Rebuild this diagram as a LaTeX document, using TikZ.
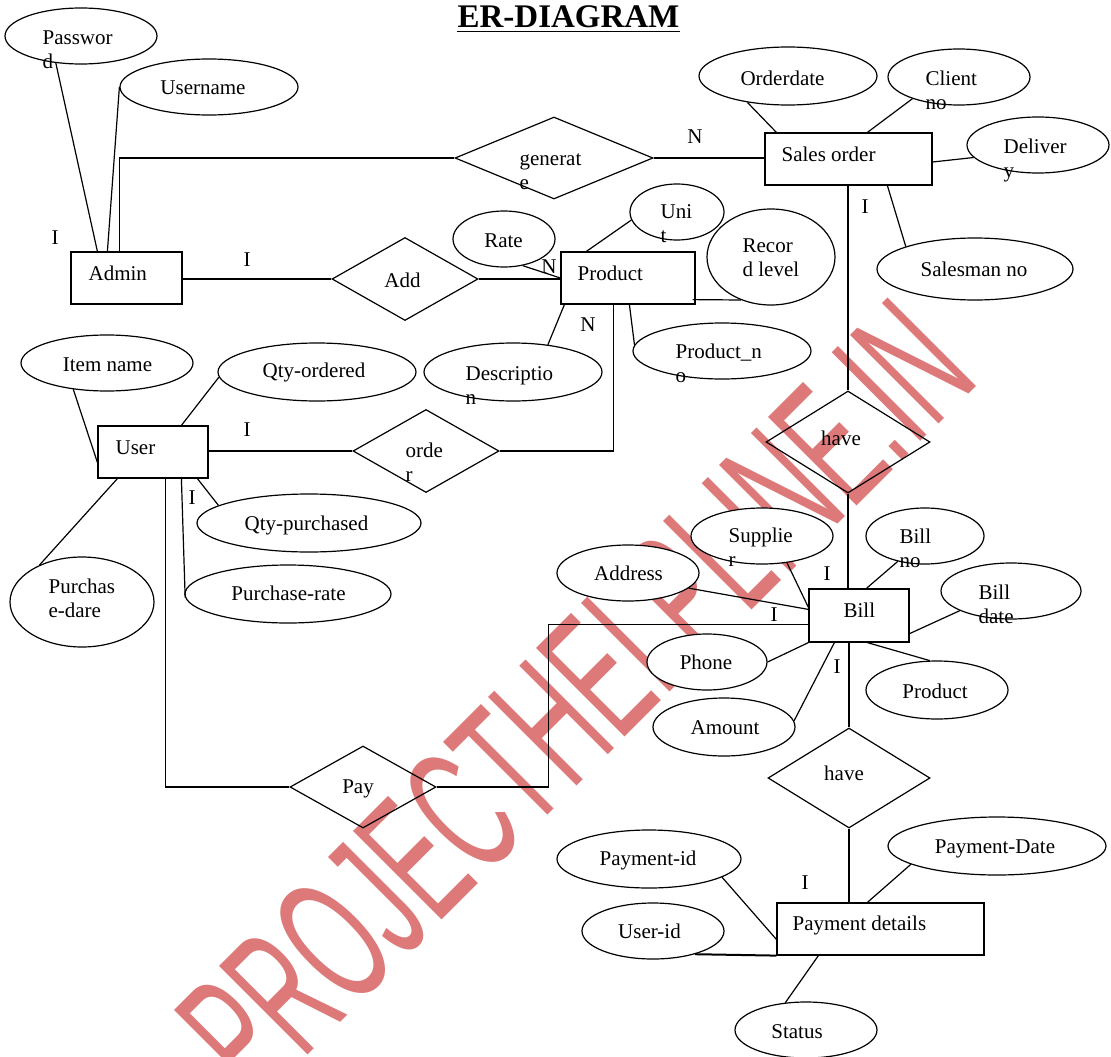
\documentclass[tikz,border=0pt]{standalone}
\usepackage{fontspec}
\usepackage{graphicx}
\setmainfont{Liberation Serif}
\newfontfamily\wmfont{Liberation Sans}
\usetikzlibrary{shapes.geometric}
\definecolor{wmred}{RGB}{221,121,121}
\newcommand{\twol}[2]{\begin{tabular}[t]{@{}l@{}}#1\\#2\end{tabular}}
\tikzset{
  ent/.style={draw, rectangle, inner sep=0pt, minimum height=52pt},
  attr/.style={draw, ellipse, fill=white, inner sep=0pt},
  rel/.style={draw, diamond, inner sep=0pt},
  txt/.style={inner sep=0pt, anchor=base},
  txtl/.style={inner sep=0pt, anchor=base west},
  card/.style={inner sep=0pt},
}
\begin{document}
\begin{tikzpicture}[x=1pt, y=-1pt, line width=1.2pt, font=\fontsize{21}{24}\selectfont]
\useasboundingbox (0,0) rectangle (1111,1057);
\fill[white] (0,0) rectangle (1111,1057);

% watermark
\node[rotate=45, inner sep=0pt, text=wmred, font=\wmfont\fontsize{182}{190}\selectfont] (wm) at (575.6,698.4) {\scalebox{0.522}[1]{PROJECTHELPLINE.IN}};

% title
\node[txt, font=\fontsize{33}{36}\selectfont\bfseries] (title) at (568.5,28) {ER-DIAGRAM};
\draw[line width=1.8pt] ([yshift=-3.5pt]title.base west) -- ([yshift=-3.5pt]title.base east);

% entities
\node[ent, minimum width=111pt] (admin) at (126.5,278) {};
\node[ent, minimum width=134pt] (product) at (628,278) {};
\node[ent, minimum width=167pt] (sales) at (848.5,159) {};
\node[ent, minimum width=110pt] (user) at (153,452) {};
\node[ent, minimum width=100pt, minimum height=53pt] (bill) at (859,615.5) {};
\node[ent, minimum width=207pt] (paydet) at (880.5,929) {};

% relationships
\node[rel, minimum width=198pt, minimum height=82pt] (gen) at (554,158) {};
\node[rel, minimum width=146pt, minimum height=83pt] (add) at (405,279) {};
\node[rel, minimum width=146pt, minimum height=83pt] (order) at (426,451) {};
\node[rel, minimum width=164pt, minimum height=102pt] (have1) at (848,442) {};
\node[rel, minimum width=162pt, minimum height=100pt] (have2) at (849,778) {};
\node[rel, minimum width=146pt, minimum height=82pt] (pay) at (363,787) {};

% attributes
\node[attr, minimum width=152pt, minimum height=56pt] (pw) at (81,36) {};
\node[attr, minimum width=178pt, minimum height=56pt] (un) at (209,87) {};
\node[attr, minimum width=178pt, minimum height=58pt] (odate) at (788,76) {};
\node[attr, minimum width=142pt, minimum height=56pt] (client) at (959,77) {};
\node[attr, minimum width=142pt, minimum height=56pt] (deliver) at (1038,145) {};
\node[attr, minimum width=196pt, minimum height=62pt] (salesman) at (975,269) {};
\node[attr, minimum width=102pt, minimum height=56pt] (rate) at (504,239) {};
\node[attr, minimum width=94pt, minimum height=56pt] (unit) at (677,212) {};
\node[attr, minimum width=128pt, minimum height=96pt] (recor) at (771,257) {};
\node[attr, minimum width=178pt, minimum height=56pt] (prodno) at (722,351) {};
\node[attr, minimum width=178pt, minimum height=58pt] (desc) at (513,372) {};
\node[attr, minimum width=172pt, minimum height=56pt] (item) at (107,363) {};
\node[attr, minimum width=198pt, minimum height=58pt] (qtyord) at (317,372) {};
\node[attr, minimum width=224pt, minimum height=58pt] (qtypur) at (309,523) {};
\node[attr, minimum width=206pt, minimum height=58pt] (purrate) at (288,594) {};
\node[attr, minimum width=144pt, minimum height=90pt] (purdare) at (82,602) {};
\node[attr, minimum width=142pt, minimum height=56pt] (supp) at (762,536) {};
\node[attr, minimum width=142pt, minimum height=56pt] (addr) at (628,573) {};
\node[attr, minimum width=118pt, minimum height=56pt] (billno) at (925,536) {};
\node[attr, minimum width=140pt, minimum height=56pt] (billdate) at (1011,591) {};
\node[attr, minimum width=120pt, minimum height=56pt] (phone) at (707,662) {};
\node[attr, minimum width=142pt, minimum height=58pt] (bprod) at (937,690) {};
\node[attr, minimum width=142pt, minimum height=58pt] (amount) at (724,727) {};
\node[attr, minimum width=218pt, minimum height=58pt] (paydate) at (997,846) {};
\node[attr, minimum width=184pt, minimum height=58pt] (payid) at (649,859) {};
\node[attr, minimum width=142pt, minimum height=56pt] (userid) at (653,931) {};
\node[attr, minimum width=142pt, minimum height=56pt] (status) at (806,1030) {};

% connectors
\draw (pw.227) -- ([xshift=27pt]admin.north west);
\draw (un.west) -- ([xshift=37pt]admin.north west);
\draw ([xshift=49pt]admin.north west) |- (gen.west);
\draw (admin.east |- add.west) -- (add.west);
\draw (add.east) -- (add.east -| product.west);
\draw (gen.east) -- (gen.east -| sales.west);
\draw (rate.305) -- (product.west);
\draw (unit.190) -- ([xshift=26pt]product.north west);
\draw ([xshift=-3pt,yshift=5pt]product.south east) -- (recor.235);
\draw ([xshift=69pt]product.south west) -- (prodno.176);
\draw ([xshift=4pt]product.south west) -- (desc.38);
\draw ([xshift=53pt]product.south west) |- (order.east);
\draw (user.east |- order.west) -- (order.west);
\draw (have1.north |- sales.south) -- (have1.north);
\draw (odate.213) -- ([xshift=12pt]sales.north west);
\draw (client.205) -- ([xshift=103pt]sales.north west);
\draw ([yshift=-3pt]sales.east) -- (deliver.191);
\draw ([xshift=123pt]sales.south west) -- (salesman.162);
\draw (have1.south) -- (have1.south |- bill.north);
\draw (have2.north |- bill.south) -- (have2.north);
\draw (have2.south) -- (have2.south |- paydet.north);
\draw (supp.313) -- ([yshift=-19pt]bill.north west);
\draw (addr.346) -- ([yshift=-21pt]bill.north west);
\draw ([yshift=-36pt]bill.north west) -| ([xshift=112pt]pay.east) -- (pay.east);
\draw ([xshift=68pt]user.south west) |- (pay.west);
\draw ([xshift=58pt]bill.north west) -- (billno.223);
\draw ([yshift=9pt]bill.south east) -- (billdate.201);
\draw ([xshift=59pt]bill.south west) -- (bprod.104);
\draw (bill.south west) -- (phone.east);
\draw ([xshift=26pt]bill.south west) -- (amount.5);
\draw (paydate.192) -- ([xshift=91pt]paydet.north west);
\draw (payid.346) -- ([yshift=-37pt]paydet.north west);
\draw[line width=2pt] (userid.331) -- (paydet.south west);
\draw ([xshift=42pt]paydet.south west) -- (status.127);
\draw (item.218) -- ([yshift=-37pt]user.north west);
\draw (qtyord.183) -- ([xshift=84pt]user.north west);
\draw ([xshift=100pt]user.south west) -- (qtypur.169);
\draw ([xshift=84pt]user.south west) -- (purrate.182);
\draw ([xshift=20pt]user.south west) -- (purdare.139);

% entity texts
\node[txtl] (admint) at (88,280) {Admin};
\node[txtl] (productt) at (577,280) {Product};
\node[txtl] (salest) at (781,161) {Sales order};
\node[txtl] (usert) at (115,454) {User};
\node[txtl] (billt) at (843,617) {Bill};
\node[txtl] (paydett) at (792,930) {Payment details};

% relationship texts
\node[txt] (addt) at (402.5,287) {Add};
\node[txt] (have1t) at (841,445) {have};
\node[txt] (have2t) at (844,780) {have};
\node[txt] (payt) at (358,793) {Pay};
\node[txtl] (gent) at (519,165) {\twol{generat}{e}};
\node[txtl] (ordert) at (405,457) {\twol{orde}{r}};

% attribute texts
\node[txt] (unt) at (203,94) {Username};
\node[txt] (odatet) at (782.5,85) {Orderdate};
\node[txt] (salesmant) at (974,276) {Salesman no};
\node[txt] (ratet) at (503.5,247) {Rate};
\node[txt] (itemt) at (107.5,371) {Item name};
\node[txt] (qtyordt) at (314,377) {Qty-ordered};
\node[txt] (qtypurt) at (306.5,530) {Qty-purchased};
\node[txt] (purratet) at (288.5,600) {Purchase-rate};
\node[txt] (addrt) at (628.5,580) {Address};
\node[txt] (phonet) at (706,669) {Phone};
\node[txt] (bprodt) at (935,698) {Product};
\node[txt] (amountt) at (725,734) {Amount};
\node[txt] (paydatet) at (995,853) {Payment-Date};
\node[txt] (payidt) at (648,865) {Payment-id};
\node[txt] (useridt) at (649.5,938) {User-id};
\node[txt] (statust) at (797,1038) {Status};
\node[txtl] (pwt) at (42,45) {\twol{Passwor}{d}};
\node[txtl] (clientt) at (925,85) {\twol{Client}{no}};
\node[txtl] (delivert) at (1003,153) {\twol{Deliver}{y}};
\node[txtl] (unitt) at (660,218) {\twol{Uni}{t}};
\node[txtl] (recort) at (742,252) {\twol{Recor}{d level}};
\node[txtl] (prodnot) at (675,358) {\twol{Product\_n}{o}};
\node[txtl] (desct) at (465,380) {\twol{Descriptio}{n}};
\node[txtl] (purdaret) at (48,593) {\twol{Purchas}{e-dare}};
\node[txtl] (suppt) at (728,542) {\twol{Supplie}{r}};
\node[txtl] (billnot) at (899,543) {\twol{Bill}{no}};
\node[txtl] (billdatet) at (978,599) {\twol{Bill}{date}};

% cardinalities
\node[card] (c1) at (55,238) {I};
\node[card] (c2) at (247,260) {I};
\node[card] (c3) at (695,137) {N};
\node[card] (c4) at (549,267) {N};
\node[card] (c5) at (588,325) {N};
\node[card] (c6) at (865,207) {I};
\node[card] (c7) at (247,430) {I};
\node[card] (c8) at (192,498) {I};
\node[card] (c9) at (827,574) {I};
\node[card] (c10) at (774,615) {I};
\node[card] (c11) at (837,667) {I};
\node[card] (c12) at (805,883) {I};
\end{tikzpicture}
\end{document}
